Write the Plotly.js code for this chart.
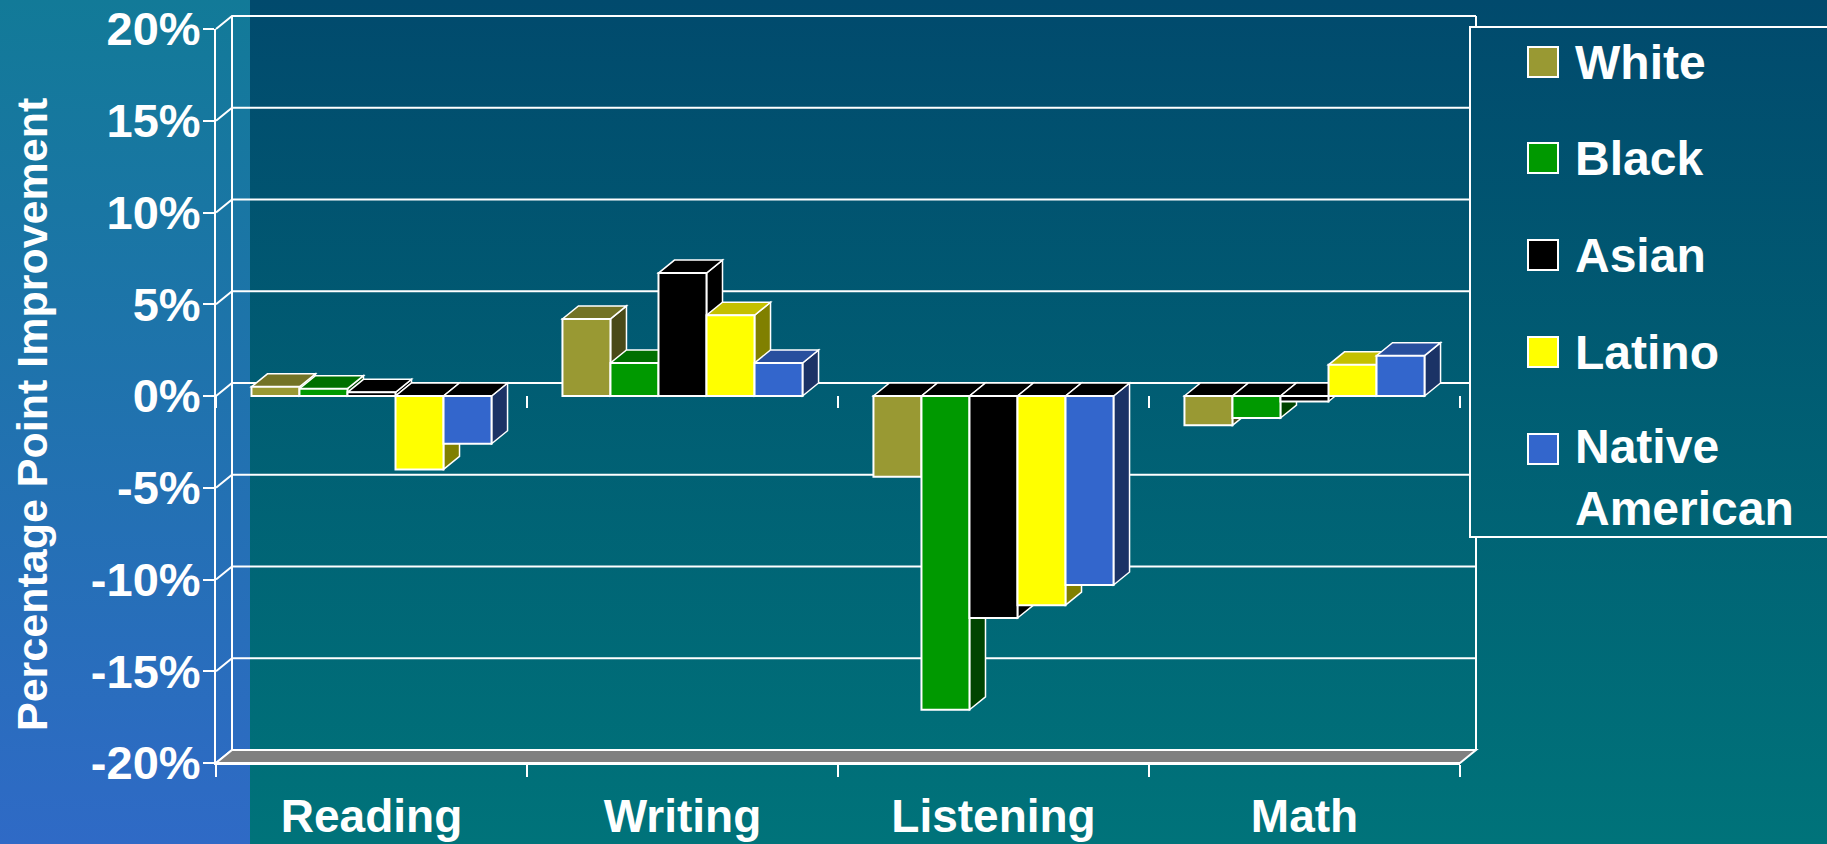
<!DOCTYPE html>
<html>
<head>
<meta charset="utf-8">
<script src="https://cdn.plot.ly/plotly-3.0.1.min.js"></script>
<style>
html,body{margin:0;padding:0;overflow:hidden;}
#wrap{position:relative;width:1827px;height:844px;
  background:
    linear-gradient(180deg,#127a98 0%,#2f6ac6 100%) 0 0/250px 100% no-repeat,
    linear-gradient(180deg,#014a6d 0%,#00737a 100%);}
#chart{width:1827px;height:844px;}
</style>
</head>
<body>
<div id="wrap"><div id="chart"></div></div>
<script>
// ---------------- data ----------------
const categories = ['Reading', 'Writing', 'Listening', 'Math'];
const seriesNames = ['White', 'Black', 'Asian', 'Latino', 'Native American'];
const legendLabels = ['White', 'Black', 'Asian', 'Latino', 'Native<br>American'];
const whiteValues = [0.5, 4.2, -4.4, -1.6];
const blackValues = [0.4, 1.8, -17.1, -1.2];
const asianValues = [0.2, 6.7, -12.1, -0.3];
const latinoValues = [-4.0, 4.4, -11.4, 1.7];
const nativeValues = [-2.6, 1.8, -10.3, 2.2];
const tickValues = [-20, -15, -10, -5, 0, 5, 10, 15, 20];
const tickLabels = ['-20%', '-15%', '-10%', '-5%', '0%', '5%', '10%', '15%', '20%'];
const yTitle = 'Percentage Point Improvement';

// ---------------- styles ----------------
const seriesValues = [whiteValues, blackValues, asianValues, latinoValues, nativeValues];
const frontColors = ['#999933', '#009900', '#000000', '#ffff00', '#3366cc'];
const topColors   = ['#737326', '#007000', '#000000', '#c4c000', '#284f9e'];
const sideColors  = ['#4a4a18', '#004400', '#000000', '#808000', '#1b3366'];
const FONT = '"Liberation Sans", Arial, Helvetica, sans-serif';
const WHITE = '#ffffff';

const W = 1827, H = 844;
const FL = 216, FR = 1460, FT = 29, FB = 763;   // front plane of the plot (px)
const DX = 16, DY = 13, PAD = 4;                // 3-D depth offset (px)
const yMin = -20, yMax = 20;
const nC = categories.length, nS = seriesValues.length;
const pxCat = (FR - FL) / nC, pxPct = (FB - FT) / (yMax - yMin);
const ddx = DX / pxCat, ddy = DY / pxPct, padY = PAD / pxPct;
const fx = px => px / W, fy = px => 1 - px / H;
const BARGAP = 0.228;
const gw = 1 - BARGAP, bw = gw / nS;

// legend box geometry (px)
const LEG_LEFT = 1470, LEG_TOP = 27, LEG_BOTTOM = 537, LEG_RIGHT = 1840;
const SW_X0 = 1528, SW = 30, TXT_X = 1573;
const itemY = [62, 158, 255, 352, 449];

// ---------------- traces ----------------
const catIndex = categories.map((c, i) => i);
const traces = seriesValues.map((vals, s) => ({
  type: 'bar', name: seriesNames[s], x: catIndex, y: vals,
  width: bw, offset: -gw / 2 + s * bw,
  marker: {color: frontColors[s], line: {color: WHITE, width: 2}},
  showlegend: false, hoverinfo: 'skip', xaxis: 'x', yaxis: 'y'
}));

const boundaries = categories.map((c, i) => i - 0.5).concat([nC - 0.5]);
const xDomain = [fx(FL), fx(FR)];
const yDomain = [fy(FB), fy(FT)];
const zeroPos = yDomain[0] + (0 - yMin) / (yMax - yMin) * (yDomain[1] - yDomain[0]);
const xToPaper = v => xDomain[0] + (v + 0.5) / nC * (xDomain[1] - xDomain[0]);

// ---------------- shapes ----------------
const shapes = [];
const wline = {color: WHITE, width: 2};
// side wall + back wall gridlines
tickValues.forEach(t => {
  const backPx = FT + (yMax - t) * pxPct - DY;
  const endPx = (backPx > LEG_TOP && backPx < LEG_BOTTOM) ? LEG_LEFT : FR + DX;
  shapes.push({type: 'path', xref: 'paper', yref: 'y2', layer: 'below',
    path: `M${fx(FL)},${t} L${fx(FL + DX)},${t + ddy} L${fx(endPx)},${t + ddy}`,
    line: wline});
});
// back wall left edge
shapes.push({type: 'line', xref: 'paper', yref: 'y2', layer: 'below',
  x0: fx(FL + DX), x1: fx(FL + DX), y0: yMin + ddy, y1: yMax + ddy, line: wline});
// back wall right edge (hidden behind legend box)
shapes.push({type: 'line', xref: 'paper', yref: 'paper', layer: 'below',
  x0: fx(FR + DX), x1: fx(FR + DX), y0: fy(FT - DY), y1: fy(LEG_TOP), line: wline});
shapes.push({type: 'line', xref: 'paper', yref: 'paper', layer: 'below',
  x0: fx(FR + DX), x1: fx(FR + DX), y0: fy(LEG_BOTTOM), y1: fy(FB - DY), line: wline});
// floor
shapes.push({type: 'path', xref: 'paper', yref: 'y2', layer: 'below',
  path: `M${fx(FL)},${yMin} L${fx(FR)},${yMin} L${fx(FR + DX)},${yMin + ddy} L${fx(FL + DX)},${yMin + ddy} Z`,
  fillcolor: '#808080', line: wline});
// category boundary ticks under the 0% line
boundaries.forEach(b => {
  shapes.push({type: 'line', xref: 'paper', yref: 'y2', layer: 'below',
    ysizemode: 'pixel', yanchor: 0, x0: xToPaper(b), x1: xToPaper(b), y0: 0, y1: -12,
    line: wline});
});

// 3-D faces of every bar
seriesValues.forEach((vals, s) => {
  vals.forEach((v, c) => {
    const xl = c - gw / 2 + s * bw, xr = xl + bw;
    const y0 = Math.min(0, v), y1 = Math.max(0, v);
    // right side face
    shapes.push({type: 'path', xref: 'x', yref: 'y', layer: 'below',
      path: `M${xr},${y0} L${xr + ddx},${y0 + ddy} L${xr + ddx},${y1 + ddy} L${xr},${y1} Z`,
      fillcolor: sideColors[s], line: {color: WHITE, width: 1.5}});
    // top face
    shapes.push({type: 'path', xref: 'x', yref: 'y', layer: 'below',
      path: `M${xl},${y1} L${xr},${y1} L${xr + ddx},${y1 + ddy} L${xl + ddx},${y1 + ddy} Z`,
      fillcolor: v >= 0 ? topColors[s] : '#000000', line: {color: WHITE, width: 1.5}});
  });
});

// legend box and swatches
shapes.push({type: 'rect', xref: 'paper', yref: 'paper', layer: 'above',
  x0: fx(LEG_LEFT), x1: fx(LEG_RIGHT), y0: fy(LEG_BOTTOM), y1: fy(LEG_TOP),
  line: {color: WHITE, width: 2}, fillcolor: 'rgba(0,0,0,0)'});
const annotations = [];
seriesNames.forEach((n, s) => {
  shapes.push({type: 'rect', xref: 'paper', yref: 'paper', layer: 'above',
    x0: fx(SW_X0), x1: fx(SW_X0 + SW), y0: fy(itemY[s] + SW / 2), y1: fy(itemY[s] - SW / 2),
    fillcolor: frontColors[s], line: {color: WHITE, width: 2}});
  const twoLine = legendLabels[s].indexOf('<br>') >= 0;
  annotations.push({xref: 'paper', yref: 'paper', x: fx(TXT_X),
    y: fy(twoLine ? itemY[s] - 31 : itemY[s]), xanchor: 'left', yanchor: twoLine ? 'top' : 'middle',
    text: legendLabels[s], showarrow: false, align: 'left',
    font: {family: FONT, size: 48, color: WHITE, weight: 'bold'}});
});
// y axis title
annotations.push({xref: 'paper', yref: 'paper', x: fx(32), y: fy(415), xanchor: 'center', yanchor: 'middle',
  text: yTitle, textangle: -90, showarrow: false,
  font: {family: FONT, size: 43, color: WHITE, weight: 'bold'}});

const layout = {
  width: W, height: H, autosize: false,
  margin: {l: 0, r: 0, t: 0, b: 0, pad: 0},
  paper_bgcolor: 'rgba(0,0,0,0)', plot_bgcolor: 'rgba(0,0,0,0)',
  barmode: 'overlay', showlegend: false,
  font: {family: FONT, color: WHITE},
  xaxis: {domain: xDomain, range: [-0.5, nC - 0.5], type: 'linear', anchor: 'y',
    tickmode: 'array', tickvals: catIndex, ticktext: categories, ticks: '',
    minor: {tickmode: 'array', tickvals: boundaries, ticks: 'outside', ticklen: 12, tickwidth: 2, tickcolor: WHITE},
    showline: true, linecolor: WHITE, linewidth: 2, showgrid: false, zeroline: false,
    ticklabelstandoff: 12, automargin: false, fixedrange: true,
    tickfont: {family: FONT, size: 46, color: WHITE, weight: 'bold'}},
  xaxis3: {domain: xDomain, range: [-0.5, nC - 0.5], type: 'linear', overlaying: 'x', anchor: 'free',
    position: zeroPos, side: 'bottom',
    tickmode: 'array', tickvals: boundaries, ticks: 'outside', ticklen: 12, tickwidth: 2, tickcolor: WHITE,
    showticklabels: false,
    showline: true, linecolor: WHITE, linewidth: 2, showgrid: false, zeroline: false,
    automargin: false, fixedrange: true},
  yaxis: {domain: yDomain, range: [yMin, yMax], type: 'linear', anchor: 'x',
    tickmode: 'array', tickvals: tickValues, ticktext: tickLabels,
    ticks: 'outside', ticklen: 11, tickwidth: 2, tickcolor: WHITE,
    showline: true, linecolor: WHITE, linewidth: 2, showgrid: false, zeroline: false,
    ticklabelstandoff: -7, automargin: false, fixedrange: true,
    tickfont: {family: FONT, size: 47, color: WHITE, weight: 'bold'}},
  yaxis2: {domain: [fy(FB + PAD), fy(FT - DY - PAD)], range: [yMin - padY, yMax + ddy + padY],
    type: 'linear', anchor: 'free', position: 0, visible: false, fixedrange: true},
  shapes: shapes,
  annotations: annotations
};

Plotly.newPlot('chart', traces, layout, {displayModeBar: false, staticPlot: true});
</script>
</body>
</html>
